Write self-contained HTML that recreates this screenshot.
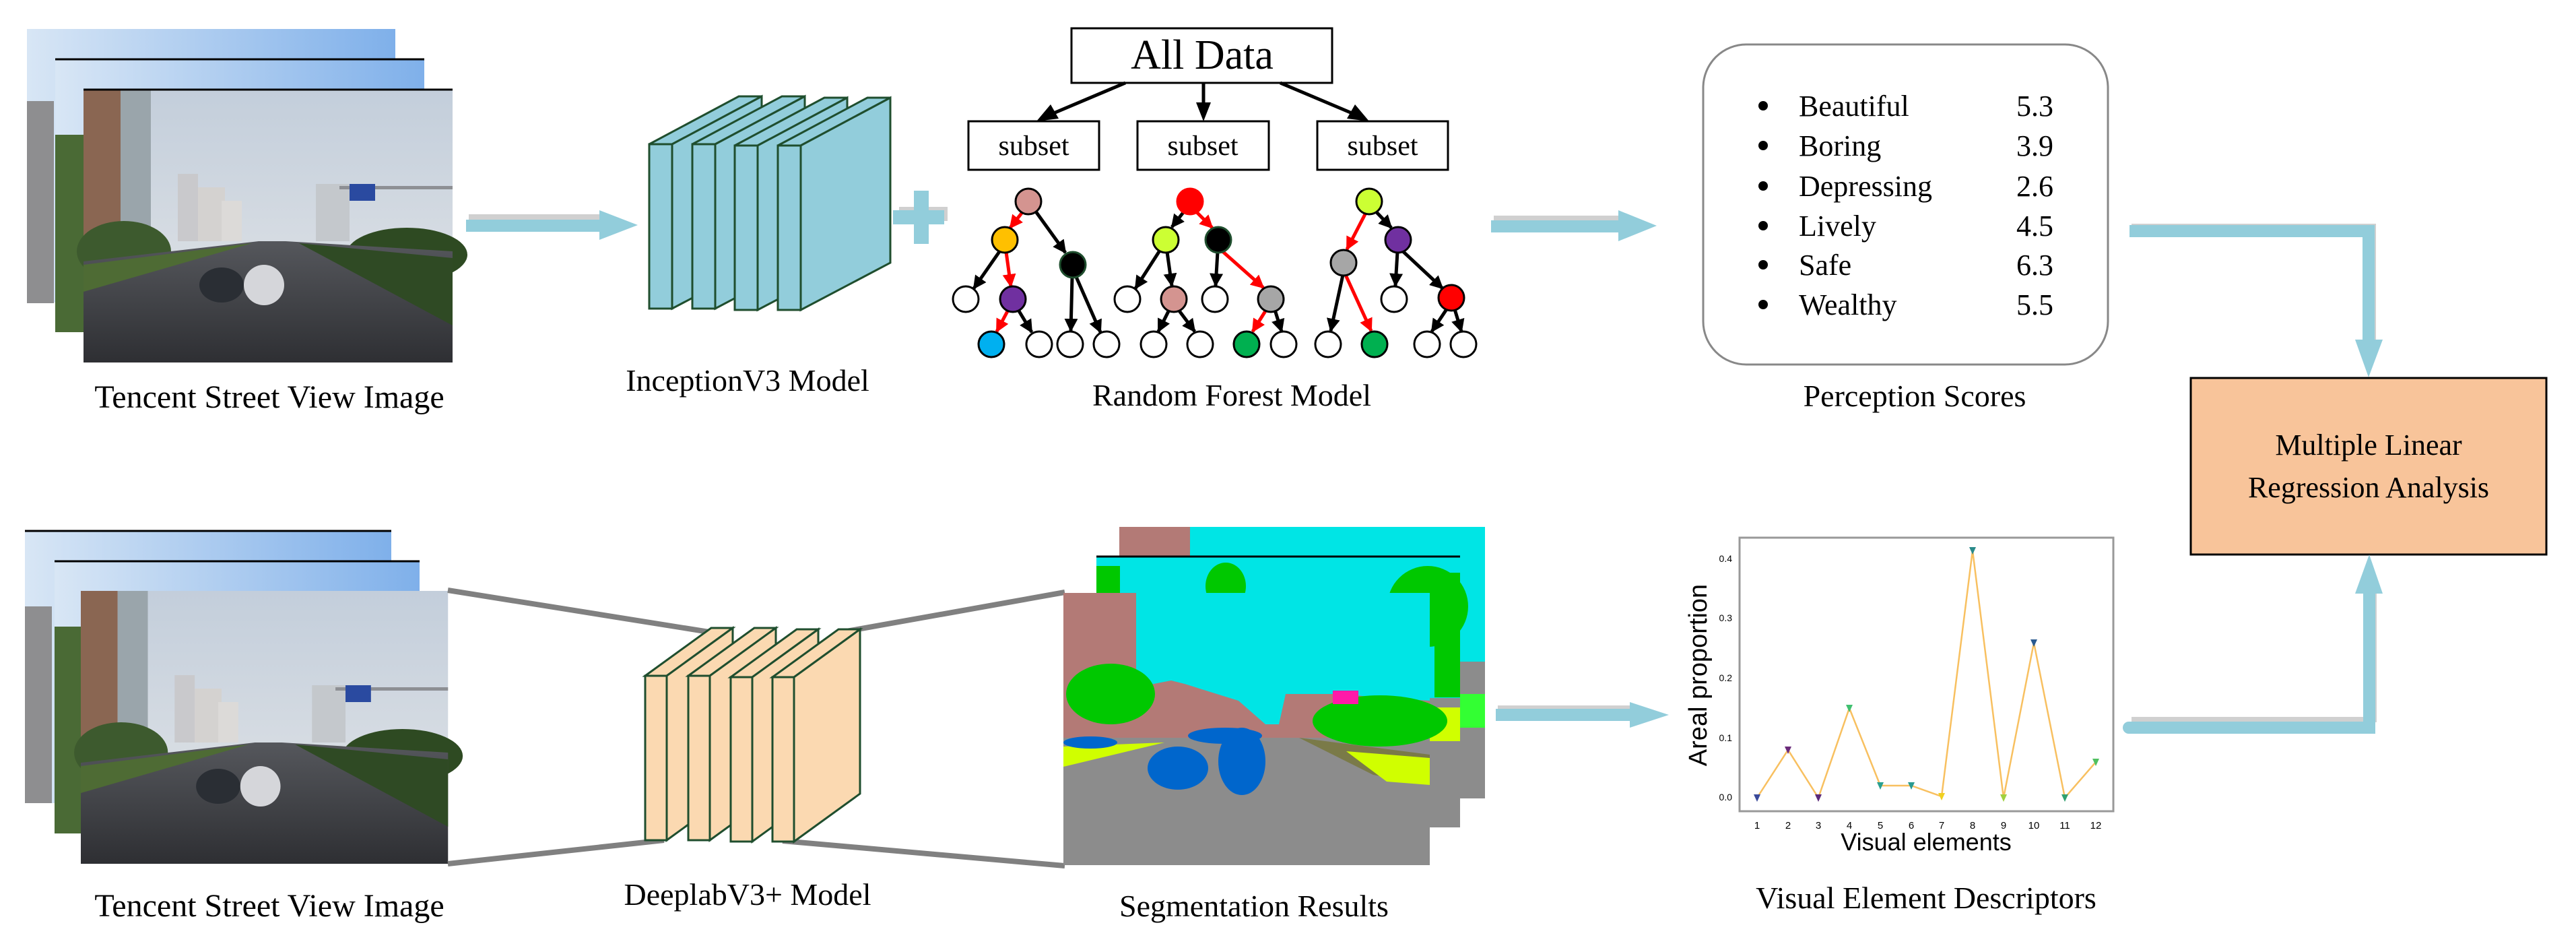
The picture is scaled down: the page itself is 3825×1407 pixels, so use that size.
<!DOCTYPE html>
<html><head><meta charset="utf-8"><style>
html,body{margin:0;padding:0;background:#fff;}
svg{display:block;}
text{font-family:"Liberation Serif",serif;fill:#000;}
.s{font-family:"Liberation Sans",sans-serif;}
</style></head><body>
<svg width="3825" height="1407" viewBox="0 0 3825 1407" xmlns="http://www.w3.org/2000/svg">
<defs>
<linearGradient id="sky" x1="0" y1="0" x2="0" y2="1"><stop offset="0" stop-color="#c3cedb"/><stop offset="1" stop-color="#e4e6e8"/></linearGradient>
<linearGradient id="sky2" x1="0" y1="0" x2="1" y2="0"><stop offset="0" stop-color="#d8e6f5"/><stop offset="1" stop-color="#7fb0ea"/></linearGradient>
<linearGradient id="road" x1="0" y1="0" x2="0" y2="1"><stop offset="0" stop-color="#55575c"/><stop offset="1" stop-color="#2e2f33"/></linearGradient>
<g id="photo">
 <rect x="0" y="0" width="548" height="405" fill="url(#sky)"/>
 <rect x="0" y="0" width="55" height="240" fill="#8a6652"/>
 <rect x="55" y="0" width="45" height="235" fill="#9aa5ab"/>
 <rect x="140" y="125" width="30" height="100" fill="#c9c9cc"/>
 <rect x="170" y="145" width="40" height="80" fill="#d4d2d0"/>
 <rect x="205" y="165" width="30" height="60" fill="#dcdad8"/>
 <rect x="345" y="140" width="50" height="85" fill="#c4c8cc"/>
 <rect x="380" y="143" width="168" height="5" fill="#8d8f94"/>
 <rect x="395" y="140" width="38" height="25" fill="#2a4aa0"/>
 <ellipse cx="60" cy="240" rx="70" ry="45" fill="#3d5a2e"/>
 <ellipse cx="480" cy="245" rx="90" ry="40" fill="#2e4a22"/>
 <polygon points="0,255 260,225 300,225 548,240 548,405 0,405" fill="url(#road)"/>
 <polygon points="0,260 250,228 0,300" fill="#4e6b34"/>
 <polygon points="320,228 548,250 548,350" fill="#2f4a24"/>
 <ellipse cx="205" cy="290" rx="33" ry="26" fill="#2a2e34"/>
 <ellipse cx="268" cy="290" rx="30" ry="30" fill="#d5d6da"/>
</g>
<g id="seg">
 <rect x="0" y="0" width="544" height="404" fill="#8c8c8c"/>
 <rect x="0" y="0" width="544" height="215" fill="#b37a76"/>
 <polygon points="108,0 544,0 544,160 460,155 420,150 330,150 320,195 300,195 260,160 180,135 160,130 108,140" fill="#00e5e5"/>
 <ellipse cx="70" cy="150" rx="66" ry="45" fill="#00c800"/>
 <ellipse cx="470" cy="190" rx="100" ry="38" fill="#00c800"/>
 <rect x="400" y="145" width="38" height="20" fill="#ff1aa8"/>
 <polygon points="0,228 150,222 0,258" fill="#d0ff00"/>
 <polygon points="350,215 544,240 544,285 460,270" fill="#7a7a48"/>
 <polygon points="420,235 544,245 544,285 480,280" fill="#d0ff00"/>
 <ellipse cx="170" cy="260" rx="45" ry="32" fill="#0066cc"/>
 <ellipse cx="265" cy="250" rx="35" ry="50" fill="#0066cc"/>
 <ellipse cx="240" cy="212" rx="55" ry="12" fill="#0066cc"/>
 <ellipse cx="40" cy="222" rx="40" ry="9" fill="#0066cc"/>
</g>
</defs>

<!-- top photos -->
<rect x="40" y="43" width="547" height="406" fill="url(#sky2)"/>
<rect x="40" y="150" width="40" height="300" fill="#8e8e90"/>
<rect x="82" y="88" width="548" height="405" fill="url(#sky2)"/>
<rect x="82" y="200" width="42" height="293" fill="#4a6a35"/>
<line x1="82" y1="88" x2="630" y2="88" stroke="#000" stroke-width="3"/>
<use href="#photo" x="124" y="133"/>
<line x1="124" y1="133" x2="672" y2="133" stroke="#000" stroke-width="3"/>
<text x="400" y="605" font-size="48" text-anchor="middle">Tencent Street View Image</text>

<!-- arrow 1 -->
<rect x="696" y="318" width="195" height="8" fill="#d0d0d0"/>
<rect x="692" y="326" width="200" height="18" fill="#92cddb"/><polygon points="890,312 947,334 890,356" fill="#92cddb"/>

<!-- inception slabs -->
<g fill="#92cddb" stroke="#1f4e2e" stroke-width="3">
 <g><polygon points="964,214 1097,143 1131,143 998,214"/><polygon points="998,214 1131,143 1131,388 998,458"/><rect x="964" y="214" width="34" height="244"/></g>
 <g transform="translate(64,0)"><polygon points="964,214 1097,143 1131,143 998,214"/><polygon points="998,214 1131,143 1131,388 998,458"/><rect x="964" y="214" width="34" height="244"/></g>
 <g transform="translate(127,2)"><polygon points="964,214 1097,143 1131,143 998,214"/><polygon points="998,214 1131,143 1131,388 998,458"/><rect x="964" y="214" width="34" height="244"/></g>
 <g transform="translate(191,2)"><polygon points="964,214 1097,143 1131,143 998,214"/><polygon points="998,214 1131,143 1131,388 998,458"/><rect x="964" y="214" width="34" height="244"/></g>
</g>
<text x="1110" y="580" font-size="46" text-anchor="middle">InceptionV3 Model</text>

<!-- plus -->
<rect x="1335" y="307" width="72" height="21" fill="#d0d0d0"/>
<rect x="1326" y="312" width="76" height="21" fill="#92cddb"/>
<rect x="1357" y="283" width="22" height="79" fill="#92cddb"/>

<!-- random forest -->
<rect x="1591" y="42" width="387" height="81" fill="#fff" stroke="#000" stroke-width="3"/>
<text x="1785" y="102" font-size="62" text-anchor="middle">All Data</text>
<g fill="#fff" stroke="#000" stroke-width="3">
<rect x="1438" y="180" width="194" height="72"/><rect x="1689" y="180" width="195" height="72"/><rect x="1956" y="180" width="194" height="72"/>
</g>
<g font-size="42" text-anchor="middle"><text x="1535" y="230">subset</text><text x="1786" y="230">subset</text><text x="2053" y="230">subset</text></g>
<g stroke="#000" stroke-width="5">
<line x1="1671" y1="123" x2="1555" y2="172"/><line x1="1787" y1="123" x2="1787" y2="160"/><line x1="1901" y1="123" x2="2017" y2="172"/>
</g>
<polygon points="1539,180 1560,155 1572,176" fill="#000"/>
<polygon points="1787,180 1776,152 1798,152" fill="#000"/>
<polygon points="2033,180 2000,176 2012,155" fill="#000"/>

<defs>
<marker id="mb" viewBox="0 0 10 10" refX="9" refY="5" markerWidth="4" markerHeight="4" orient="auto" markerUnits="strokeWidth"><path d="M0,0 L10,5 L0,10 z" fill="#000"/></marker>
<marker id="mr" viewBox="0 0 10 10" refX="9" refY="5" markerWidth="4" markerHeight="4" orient="auto" markerUnits="strokeWidth"><path d="M0,0 L10,5 L0,10 z" fill="#f00"/></marker>
</defs>
<g stroke-width="5" fill="none">
 <line x1="1518" y1="315" x2="1500" y2="338" stroke="#f00" marker-end="url(#mr)"/>
 <line x1="1538" y1="314" x2="1582" y2="375" stroke="#000" marker-end="url(#mb)"/>
 <line x1="1485" y1="372" x2="1446" y2="428" stroke="#000" marker-end="url(#mb)"/>
 <line x1="1494" y1="374" x2="1501" y2="425" stroke="#f00" marker-end="url(#mr)"/>
 <line x1="1497" y1="460" x2="1480" y2="492" stroke="#f00" marker-end="url(#mr)"/>
 <line x1="1512" y1="460" x2="1532" y2="493" stroke="#000" marker-end="url(#mb)"/>
 <line x1="1592" y1="412" x2="1590" y2="491" stroke="#000" marker-end="url(#mb)"/>
 <line x1="1598" y1="411" x2="1634" y2="493" stroke="#000" marker-end="url(#mb)"/>
 <line x1="1758" y1="314" x2="1740" y2="337" stroke="#000" marker-end="url(#mb)"/>
 <line x1="1776" y1="314" x2="1800" y2="338" stroke="#f00" marker-end="url(#mr)"/>
 <line x1="1722" y1="372" x2="1686" y2="428" stroke="#000" marker-end="url(#mb)"/>
 <line x1="1733" y1="374" x2="1740" y2="424" stroke="#000" marker-end="url(#mb)"/>
 <line x1="1808" y1="374" x2="1805" y2="424" stroke="#000" marker-end="url(#mb)"/>
 <line x1="1814" y1="372" x2="1876" y2="427" stroke="#f00" marker-end="url(#mr)"/>
 <line x1="1736" y1="460" x2="1720" y2="492" stroke="#000" marker-end="url(#mb)"/>
 <line x1="1750" y1="460" x2="1774" y2="492" stroke="#000" marker-end="url(#mb)"/>
 <line x1="1880" y1="460" x2="1860" y2="492" stroke="#f00" marker-end="url(#mr)"/>
 <line x1="1893" y1="460" x2="1903" y2="492" stroke="#000" marker-end="url(#mb)"/>
 <line x1="2028" y1="316" x2="2000" y2="370" stroke="#f00" marker-end="url(#mr)"/>
 <line x1="2043" y1="314" x2="2066" y2="338" stroke="#000" marker-end="url(#mb)"/>
 <line x1="1994" y1="408" x2="1976" y2="491" stroke="#000" marker-end="url(#mb)"/>
 <line x1="1998" y1="408" x2="2036" y2="491" stroke="#f00" marker-end="url(#mr)"/>
 <line x1="2075" y1="374" x2="2072" y2="424" stroke="#000" marker-end="url(#mb)"/>
 <line x1="2082" y1="372" x2="2142" y2="428" stroke="#000" marker-end="url(#mb)"/>
 <line x1="2148" y1="459" x2="2126" y2="492" stroke="#000" marker-end="url(#mb)"/>
 <line x1="2160" y1="459" x2="2170" y2="492" stroke="#000" marker-end="url(#mb)"/>
</g>
<g stroke="#000" stroke-width="3">
 <ellipse cx="1527" cy="299" rx="19" ry="19" fill="#d49490"/>
 <ellipse cx="1492" cy="356" rx="19" ry="19" fill="#ffc000"/>
 <ellipse cx="1593" cy="393" rx="19" ry="19" fill="#000" stroke="#1f4e2e"/>
 <ellipse cx="1434" cy="444" rx="19" ry="19" fill="#fff"/>
 <ellipse cx="1504" cy="444" rx="19" ry="19" fill="#7030a0"/>
 <ellipse cx="1472" cy="511" rx="19" ry="19" fill="#00b0f0"/>
 <ellipse cx="1543" cy="511" rx="19" ry="19" fill="#fff"/>
 <ellipse cx="1589" cy="511" rx="19" ry="19" fill="#fff"/>
 <ellipse cx="1643" cy="511" rx="19" ry="19" fill="#fff"/>
 <ellipse cx="1767" cy="299" rx="19" ry="19" fill="#f00" stroke="#f00"/>
 <ellipse cx="1731" cy="356" rx="19" ry="19" fill="#ccff33"/>
 <ellipse cx="1809" cy="356" rx="19" ry="19" fill="#000" stroke="#1f4e2e"/>
 <ellipse cx="1674" cy="444" rx="19" ry="19" fill="#fff"/>
 <ellipse cx="1743" cy="444" rx="19" ry="19" fill="#d49490"/>
 <ellipse cx="1804" cy="444" rx="19" ry="19" fill="#fff"/>
 <ellipse cx="1887" cy="444" rx="19" ry="19" fill="#a6a6a6"/>
 <ellipse cx="1713" cy="511" rx="19" ry="19" fill="#fff"/>
 <ellipse cx="1782" cy="511" rx="19" ry="19" fill="#fff"/>
 <ellipse cx="1851" cy="511" rx="19" ry="19" fill="#00b050"/>
 <ellipse cx="1906" cy="511" rx="19" ry="19" fill="#fff"/>
 <ellipse cx="2033" cy="299" rx="19" ry="19" fill="#ccff33"/>
 <ellipse cx="2076" cy="356" rx="19" ry="19" fill="#7030a0"/>
 <ellipse cx="1995" cy="390" rx="19" ry="19" fill="#a6a6a6"/>
 <ellipse cx="2070" cy="444" rx="19" ry="19" fill="#fff"/>
 <ellipse cx="2155" cy="442" rx="19" ry="19" fill="#f00"/>
 <ellipse cx="1972" cy="511" rx="19" ry="19" fill="#fff"/>
 <ellipse cx="2041" cy="511" rx="19" ry="19" fill="#00b050"/>
 <ellipse cx="2119" cy="511" rx="19" ry="19" fill="#fff"/>
 <ellipse cx="2173" cy="511" rx="19" ry="19" fill="#fff"/>
</g>
<text x="1829" y="602" font-size="46" text-anchor="middle">Random Forest Model</text>

<!-- arrow 2 -->
<rect x="2218" y="320" width="190" height="8" fill="#d0d0d0"/>
<rect x="2214" y="327" width="190" height="18" fill="#92cddb"/><polygon points="2403,312 2460,335 2403,358" fill="#92cddb"/>

<!-- perception box -->
<rect x="2529" y="66" width="601" height="475" rx="64" ry="64" fill="#fff" stroke="#888" stroke-width="3"/>
<g font-size="44">
 <circle cx="2618" cy="157" r="7" fill="#000"/><text x="2671" y="172">Beautiful</text><text x="2994" y="172">5.3</text>
 <circle cx="2618" cy="216" r="7" fill="#000"/><text x="2671" y="231">Boring</text><text x="2994" y="231">3.9</text>
 <circle cx="2618" cy="276" r="7" fill="#000"/><text x="2671" y="291">Depressing</text><text x="2994" y="291">2.6</text>
 <circle cx="2618" cy="335" r="7" fill="#000"/><text x="2671" y="350">Lively</text><text x="2994" y="350">4.5</text>
 <circle cx="2618" cy="393" r="7" fill="#000"/><text x="2671" y="408">Safe</text><text x="2994" y="408">6.3</text>
 <circle cx="2618" cy="452" r="7" fill="#000"/><text x="2671" y="467">Wealthy</text><text x="2994" y="467">5.5</text>
</g>
<text x="2843" y="603" font-size="46" text-anchor="middle">Perception Scores</text>

<!-- arrow 3 -->
<path d="M3165,336 H3524 V505" stroke="#d0d0d0" stroke-width="8" fill="none"/>
<path d="M3162,343 H3517 V510" stroke="#92cddb" stroke-width="18" fill="none"/>
<polygon points="3497,504 3538,504 3517,560" fill="#92cddb"/>

<!-- MLR box -->
<rect x="3253" y="561" width="528" height="262" fill="#f8c49a" stroke="#000" stroke-width="3"/>
<text x="3517" y="675" font-size="44" text-anchor="middle">Multiple Linear</text>
<text x="3517" y="738" font-size="44" text-anchor="middle">Regression Analysis</text>

<!-- bottom photos -->
<rect x="37" y="788" width="544" height="404" fill="url(#sky2)"/>
<rect x="37" y="900" width="40" height="292" fill="#8e8e90"/>
<line x1="37" y1="788" x2="581" y2="788" stroke="#000" stroke-width="3"/>
<rect x="81" y="833" width="542" height="404" fill="url(#sky2)"/>
<rect x="81" y="930" width="39" height="307" fill="#4a6a35"/>
<line x1="81" y1="833" x2="623" y2="833" stroke="#000" stroke-width="3"/>
<use href="#photo" transform="translate(120,877) scale(0.995,1)"/>
<text x="400" y="1360" font-size="48" text-anchor="middle">Tencent Street View Image</text>

<!-- funnel lines -->
<g stroke="#808080" stroke-width="8">
<line x1="665" y1="876" x2="1053" y2="938"/><line x1="665" y1="1282" x2="986" y2="1247"/>
<line x1="1251" y1="938" x2="1581" y2="879"/><line x1="1162" y1="1248" x2="1581" y2="1285"/>
</g>
<g fill="#fbd9b1" stroke="#1f4e2e" stroke-width="3">
 <g><polygon points="958,1003 1056,932 1088,932 990,1003"/><polygon points="990,1003 1088,932 1088,1176 990,1247"/><rect x="958" y="1003" width="32" height="244"/></g>
 <g transform="translate(64,0)"><polygon points="958,1003 1056,932 1088,932 990,1003"/><polygon points="990,1003 1088,932 1088,1176 990,1247"/><rect x="958" y="1003" width="32" height="244"/></g>
 <g transform="translate(127,2)"><polygon points="958,1003 1056,932 1088,932 990,1003"/><polygon points="990,1003 1088,932 1088,1176 990,1247"/><rect x="958" y="1003" width="32" height="244"/></g>
 <g transform="translate(189,2)"><polygon points="958,1003 1056,932 1088,932 990,1003"/><polygon points="990,1003 1088,932 1088,1176 990,1247"/><rect x="958" y="1003" width="32" height="244"/></g>
</g>
<text x="1110" y="1343" font-size="46" text-anchor="middle">DeeplabV3+ Model</text>

<!-- segmentation -->
<rect x="1662" y="782" width="543" height="403" fill="#8c8c8c"/>
<rect x="1662" y="782" width="543" height="200" fill="#00e5e5"/>
<rect x="1662" y="782" width="105" height="60" fill="#b37a76"/>
<rect x="1628" y="826" width="540" height="402" fill="#8c8c8c"/>
<rect x="1628" y="826" width="540" height="210" fill="#00e5e5"/>
<ellipse cx="2120" cy="900" rx="60" ry="60" fill="#00c800"/>
<rect x="2130" y="850" width="38" height="185" fill="#00c800"/>
<ellipse cx="1820" cy="870" rx="30" ry="35" fill="#00c800"/>
<rect x="1628" y="840" width="35" height="60" fill="#00c800"/>
<rect x="2123" y="1050" width="45" height="50" fill="#d0ff00"/>
<line x1="1628" y1="826" x2="2168" y2="826" stroke="#000" stroke-width="3"/>
<rect x="2168" y="1030" width="37" height="50" fill="#33ff33"/>
<use href="#seg" x="1579" y="880"/>
<text x="1862" y="1360" font-size="46" text-anchor="middle">Segmentation Results</text>

<!-- arrow 4 -->
<rect x="2224" y="1047" width="200" height="8" fill="#d0d0d0"/>
<rect x="2221" y="1052" width="200" height="18" fill="#92cddb"/><polygon points="2420,1042 2478,1061 2420,1080" fill="#92cddb"/>

<!-- chart -->
<rect x="2583" y="798" width="555" height="406" fill="#fff" stroke="#999" stroke-width="3"/>
<g font-size="14" fill="#555" text-anchor="end">
<text class="s" x="2572" y="834">0.4</text>
<text class="s" x="2572" y="922">0.3</text>
<text class="s" x="2572" y="1011">0.2</text>
<text class="s" x="2572" y="1100">0.1</text>
<text class="s" x="2572" y="1188">0.0</text>
</g>
<g font-size="15" fill="#555" text-anchor="middle">
<text class="s" x="2609" y="1230">1</text><text class="s" x="2655" y="1230">2</text><text class="s" x="2700" y="1230">3</text><text class="s" x="2746" y="1230">4</text><text class="s" x="2792" y="1230">5</text><text class="s" x="2838" y="1230">6</text><text class="s" x="2883" y="1230">7</text><text class="s" x="2929" y="1230">8</text><text class="s" x="2975" y="1230">9</text><text class="s" x="3020" y="1230">10</text><text class="s" x="3066" y="1230">11</text><text class="s" x="3112" y="1230">12</text>
</g>
<text class="s" x="2860" y="1262" font-size="36" text-anchor="middle" fill="#444">Visual elements</text>
<text class="s" transform="translate(2534,1002) rotate(-90)" font-size="38" text-anchor="middle" fill="#444">Areal proportion</text>
<polyline points="2609,1184 2655,1113 2700,1184 2746,1051 2792,1166 2838,1166 2883,1182 2929,817 2975,1184 3020,954 3066,1184 3112,1131" fill="none" stroke="#f8c060" stroke-width="2.5"/>
<g>
<polygon points="2604,1179 2614,1179 2609,1190" fill="#3b4a9a"/>
<polygon points="2650,1108 2660,1108 2655,1119" fill="#6a2a7a"/>
<polygon points="2695,1179 2705,1179 2700,1190" fill="#5a2a7a"/>
<polygon points="2741,1046 2751,1046 2746,1057" fill="#40c070"/>
<polygon points="2787,1161 2797,1161 2792,1172" fill="#2aa090"/>
<polygon points="2833,1161 2843,1161 2838,1172" fill="#2a9a90"/>
<polygon points="2878,1177 2888,1177 2883,1188" fill="#f0d020"/>
<polygon points="2924,812 2934,812 2929,823" fill="#2a8a8a"/>
<polygon points="2970,1179 2980,1179 2975,1190" fill="#a0d040"/>
<polygon points="3015,949 3025,949 3020,960" fill="#2a5a90"/>
<polygon points="3061,1179 3071,1179 3066,1190" fill="#30a070"/>
<polygon points="3107,1126 3117,1126 3112,1137" fill="#50c060"/>
</g>
<text x="2860" y="1348" font-size="46" text-anchor="middle">Visual Element Descriptors</text>

<!-- arrow 5 -->
<path d="M3165,1068 H3525 V880" stroke="#d0d0d0" stroke-width="8" fill="none"/>
<path d="M3161,1080 H3518 V875" stroke="#92cddb" stroke-width="18" fill="none" stroke-linecap="round"/>
<polygon points="3497,881 3538,881 3518,823" fill="#92cddb"/>
</svg>
</body></html>
